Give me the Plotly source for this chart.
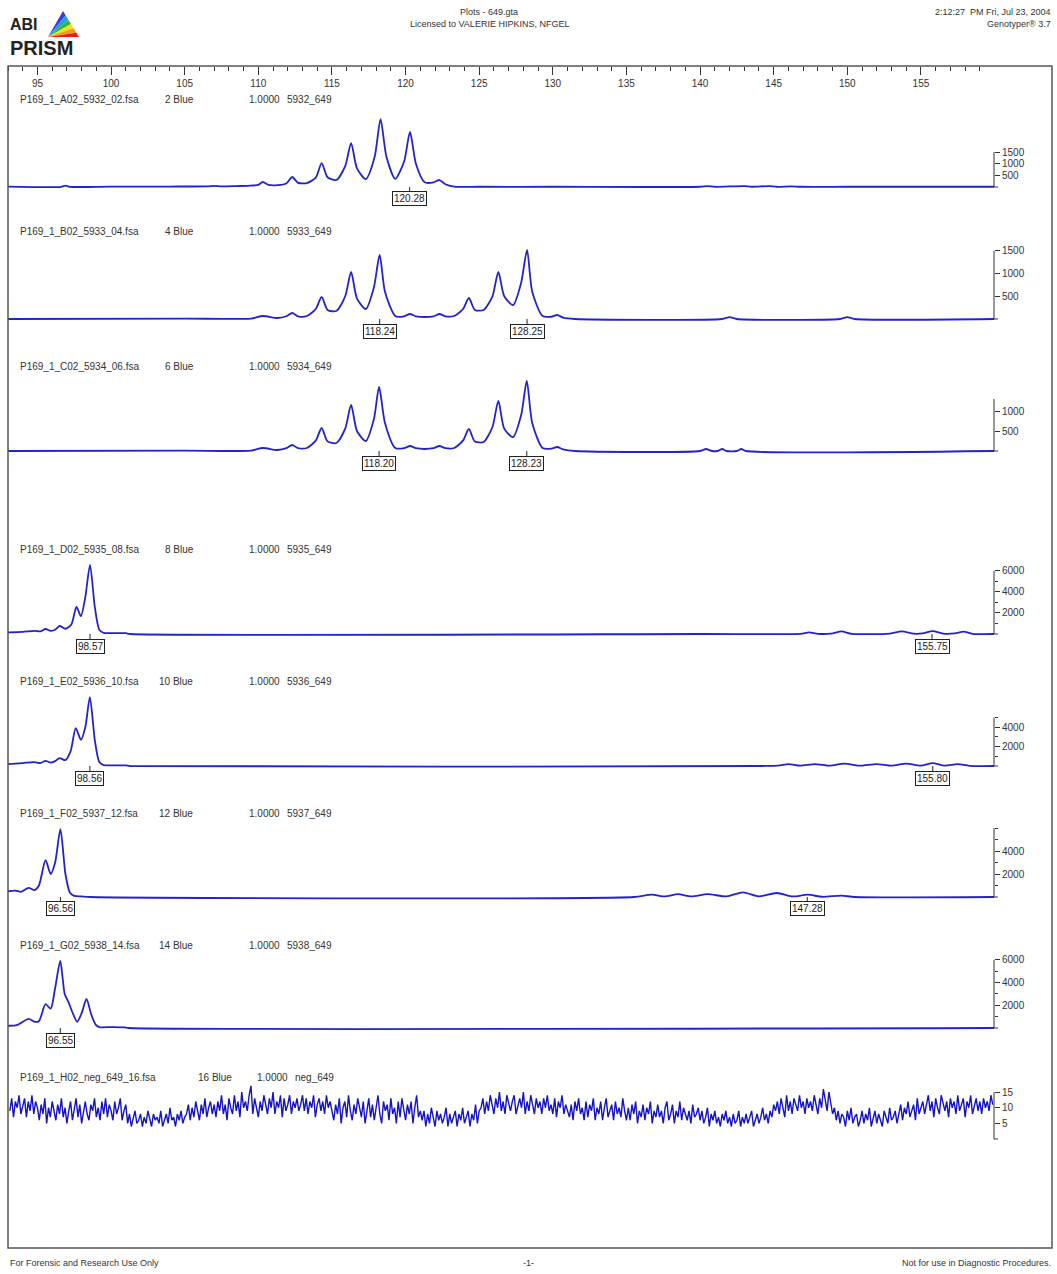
import plotly.graph_objects as go

W, H = 1057, 1274

# ---------------- data ----------------
x_range = [93.0, 159.96]
x_major = [95, 100, 105, 110, 115, 120, 125, 130, 135, 140, 145, 150, 155]

files = ["P169_1_A02_5932_02.fsa", "P169_1_B02_5933_04.fsa", "P169_1_C02_5934_06.fsa",
         "P169_1_D02_5935_08.fsa", "P169_1_E02_5936_10.fsa", "P169_1_F02_5937_12.fsa",
         "P169_1_G02_5938_14.fsa", "P169_1_H02_neg_649_16.fsa"]
dyes = ["2 Blue", "4 Blue", "6 Blue", "8 Blue", "10 Blue", "12 Blue", "14 Blue", "16 Blue"]
factors = ["1.0000"] * 8
samples = ["5932_649", "5933_649", "5934_649", "5935_649", "5936_649", "5937_649", "5938_649", "neg_649"]

peak_labels = [[120.28], [118.24, 128.25], [118.20, 128.23], [98.57, 155.75],
               [98.56, 155.80], [96.56, 147.28], [96.55], []]

y_ticks = [[500, 1000, 1500], [500, 1000, 1500], [500, 1000], [2000, 4000, 6000],
           [2000, 4000], [2000, 4000], [2000, 4000, 6000], [5, 10, 15]]
y_minor = [[], [], [], [1000, 3000, 5000], [1000, 3000, 5000], [1000, 3000, 5000, 6000],
           [1000, 3000, 5000], []]
y_axis_top = [1500, 1500, 1300, 6000, 5000, 6000, 6000, 15]

# traces (size bp, RFU)
a_x = [93.0, 96.6, 96.9, 97.2, 100.0, 104.0, 106.5, 107.0, 107.5, 108.5, 109.5,
       110.0, 110.3, 110.7, 111.3, 111.9, 112.3, 112.7, 113.3, 113.9, 114.3, 114.7, 115.3,
       115.9, 116.3, 116.7, 117.3, 117.9, 118.3, 118.7, 119.3, 119.9, 120.3, 120.7, 121.3,
       121.9, 122.3, 122.7, 123.3, 125.0, 130.0, 140.0, 140.5, 141.0, 143.0, 143.5, 144.7,
       145.2, 146.2, 146.8, 150.0, 160.0]
a_y = [20, 10, 60, 10, 15, 20, 30, 50, 25, 40, 60,
       90, 215, 90, 80, 150, 430, 180, 170, 400, 1030, 420, 300,
       900, 1890, 800, 340, 1300, 2920, 1300, 350, 1100, 2365, 1000, 200,
       200, 300, 120, 20, 10, 10, 10, 40, 10, 40, 10, 40,
       10, 30, 10, 10, 10]

b_x = [93.0, 105.0, 109.5, 110.3, 111.3, 111.9, 112.3, 112.7, 113.3, 113.9, 114.3, 114.7, 115.3,
       115.9, 116.3, 116.7, 117.3, 117.85, 118.24, 118.6, 119.3, 119.9, 120.3, 120.7, 121.3,
       121.9, 122.3, 122.7, 123.3, 123.9, 124.3, 124.7, 125.3, 125.9, 126.3, 126.7, 127.3,
       127.85, 128.25, 128.6, 129.3, 129.9, 130.3, 130.7, 131.5, 141.5, 142.0, 142.5,
       149.5, 150.0, 150.5, 160.0]
b_y = [0, 10, 10, 66, 22, 60, 132, 60, 66, 220, 484, 200, 176,
       500, 1034, 450, 220, 700, 1408, 600, 66, 60, 110, 60, 44,
       60, 110, 60, 66, 220, 462, 200, 198, 500, 1034, 500, 308,
       800, 1518, 600, 66, 50, 88, 30, 0, 0, 40, 0,
       0, 40, 0, 0]

c_x = [93.0, 105.0, 109.5, 110.3, 111.3, 111.9, 112.3, 112.7, 113.3, 113.9, 114.3, 114.7, 115.3,
       115.9, 116.3, 116.7, 117.3, 117.85, 118.20, 118.6, 119.3, 119.9, 120.3, 120.7, 121.3,
       121.9, 122.3, 122.7, 123.3, 123.9, 124.3, 124.7, 125.3, 125.9, 126.3, 126.7, 127.3,
       127.85, 128.23, 128.6, 129.3, 129.9, 130.3, 130.7, 131.5, 140.0, 140.4, 140.8, 141.2,
       141.5, 141.8, 142.5, 142.8, 143.1, 160.0]
c_y = [0, 10, 10, 75, 25, 70, 150, 70, 75, 260, 575, 240, 200,
       560, 1150, 500, 250, 800, 1600, 700, 75, 70, 125, 70, 50,
       70, 125, 70, 75, 260, 550, 240, 225, 600, 1250, 560, 350,
       900, 1750, 700, 75, 60, 100, 40, 0, 0, 50, 0, 0,
       50, 0, 0, 50, 0, 0]

d_x = [93.0, 94.0, 94.8, 95.2, 95.55, 95.9, 96.2, 96.5, 96.9, 97.3, 97.65, 97.95, 98.25,
       98.57, 98.9, 99.2, 99.5, 100.0, 101.0, 101.3, 140.0, 146.8, 147.4, 148.0, 148.9,
       149.6, 150.3, 152.9, 153.7, 154.5, 155.1, 155.8, 156.5, 157.3, 157.9, 158.5, 160.0]
d_y = [150, 200, 300, 250, 475, 300, 400, 760, 500, 900, 2570, 1700, 3500,
       6570, 2500, 400, 100, 80, 80, 0, 0, 20, 150, 20, 40,
       250, 20, 40, 250, 30, 60, 280, 40, 60, 230, 20, 0]

e_x = [93.0, 94.0, 94.8, 95.2, 95.55, 95.9, 96.2, 96.5, 96.9, 97.25, 97.6, 97.95, 98.25,
       98.56, 98.9, 99.2, 99.5, 100.0, 101.0, 101.3, 144.0, 145.3, 146.0, 146.8, 147.8,
       148.8, 149.8, 150.8, 152.0, 153.0, 154.0, 155.0, 155.8, 156.6, 157.5, 158.3, 160.0]
e_y = [200, 300, 400, 300, 520, 350, 500, 820, 600, 1500, 3900, 2700, 4000,
       7100, 2600, 400, 100, 60, 60, 0, 0, 30, 200, 30, 200,
       30, 250, 30, 200, 30, 250, 40, 300, 40, 200, 20, 0]

f_x = [93.0, 93.5, 93.9, 94.4, 94.8, 95.1, 95.55, 95.9, 96.2, 96.56, 96.9, 97.2, 97.5,
       98.0, 98.6, 135.5, 136.7, 137.6, 138.5, 139.4, 140.5, 141.8, 142.9, 144.0, 145.2,
       146.3, 147.3, 148.3, 149.6, 150.5, 160.0]
f_y = [500, 550, 450, 800, 600, 1000, 3200, 2000, 3000, 5900, 2000, 400, 100,
       50, 0, 0, 200, 50, 250, 50, 250, 50, 400, 50, 350,
       50, 200, 20, 120, 0, 0]

g_x = [93.0, 93.6, 94.4, 94.8, 95.1, 95.55, 95.9, 96.2, 96.55, 96.85, 97.1, 97.4, 97.7,
       98.0, 98.33, 98.65, 98.95, 99.2, 100.0, 100.9, 101.2, 160.0]
g_y = [200, 250, 800, 550, 600, 2100, 1700, 3500, 5900, 3000, 2300, 1300, 550,
       1300, 2550, 1200, 300, 80, 80, 60, 0, 0]

# negative control: sampled every 0.125 bp from 93.125
h_start, h_step = 93.125, 0.125
h_y = [9, 13, 7, 12, 10, 14, 8, 11, 13, 7, 12, 9, 14, 8, 12, 10,
       6, 11, 8, 13, 5, 10, 7, 12, 9, 6, 11, 8, 13, 7, 10, 5,
       9, 12, 6, 10, 13, 7, 11, 5, 9, 12, 8, 6, 11, 9, 13, 7,
       10, 6, 12, 8, 13, 7, 11, 9, 6, 12, 8, 10, 13, 6, 9, 11,
       5, 8, 4, 7, 9, 5, 6, 8, 4, 7, 5, 9, 6, 4, 8, 6,
       7, 5, 9, 4, 6, 8, 5, 10, 6, 7, 4, 8, 6, 9, 5, 7,
       8, 11, 6, 10, 7, 12, 9, 6, 11, 8, 13, 7, 10, 12, 8, 11,
       7, 12, 9, 14, 8, 11, 6, 13, 10, 8, 14, 9, 12, 7, 15, 10,
       12, 9, 14, 17, 8, 13, 10, 7, 12, 9, 14, 11, 8, 13, 10, 15,
       8, 12, 10, 14, 7, 13, 9, 11, 14, 8, 12, 10, 13, 9, 11, 14,
       9, 13, 8, 12, 10, 14, 7, 11, 13, 9, 12, 8, 14, 10, 12, 9,
       6, 11, 8, 13, 5, 10, 12, 7, 14, 9, 6, 11, 8, 13, 10, 7,
       12, 5, 9, 13, 7, 11, 6, 10, 14, 8, 5, 12, 9, 11, 6, 13,
       8, 10, 5, 12, 7, 13, 9, 6, 11, 8, 12, 5, 10, 14, 7, 9,
       6, 9, 4, 8, 5, 10, 7, 4, 9, 6, 8, 5, 7, 10, 4, 8,
       5, 7, 9, 4, 8, 6, 10, 5, 7, 9, 4, 8, 6, 11, 5, 9,
       10, 13, 8, 12, 9, 14, 11, 8, 13, 10, 15, 9, 12, 8, 14, 11,
       9, 12, 14, 8, 11, 13, 10, 15, 8, 12, 9, 14, 11, 8, 13, 10,
       12, 8, 13, 10, 14, 9, 11, 8, 13, 7, 12, 10, 14, 8, 11, 9,
       7, 11, 6, 12, 9, 13, 8, 10, 6, 12, 7, 11, 9, 13, 6, 10,
       8, 12, 6, 10, 13, 7, 9, 11, 6, 12, 8, 10, 7, 13, 9, 6,
       10, 6, 11, 8, 12, 5, 9, 7, 11, 6, 10, 8, 12, 5, 9, 7,
       11, 7, 9, 5, 10, 12, 6, 8, 11, 5, 9, 7, 12, 6, 10, 8,
       6, 9, 5, 11, 7, 8, 10, 6, 9, 5, 7, 10, 4, 8, 6, 9,
       5, 7, 4, 8, 6, 9, 5, 7, 4, 8, 5, 6, 9, 4, 7, 5,
       8, 5, 7, 9, 4, 6, 8, 5, 7, 10, 6, 8, 5, 9, 7, 11,
       9, 12, 8, 13, 10, 7, 14, 9, 12, 8, 13, 11, 9, 14, 10, 12,
       8, 13, 10, 12, 9, 14, 11, 8, 13, 10, 16, 12, 9, 15, 11, 8,
       10, 6, 9, 5, 8, 7, 4, 9, 6, 10, 5, 7, 8, 4, 6, 9,
       5, 8, 6, 10, 4, 7, 9, 5, 8, 6, 4, 9, 7, 5, 10, 6,
       7, 9, 5, 8, 11, 6, 10, 8, 12, 7, 9, 11, 6, 13, 8, 10,
       12, 8, 11, 14, 9, 12, 7, 13, 10, 8, 14, 11, 9, 12, 7, 13,
       10, 12, 8, 14, 9, 11, 13, 7, 12, 10, 14, 8, 11, 13, 9, 12,
       8, 13, 10, 12, 9, 14, 11]
h_x = [h_start + h_step * i for i in range(len(h_y))]

series_x = [a_x, b_x, c_x, d_x, e_x, f_x, g_x, h_x]
series_y = [a_y, b_y, c_y, d_y, e_y, f_y, g_y, h_y]

# ---------------- layout (pixels) ----------------
label_px = [99, 232, 366, 549, 681, 813, 945, 1077]
base_px = [187, 319, 451, 634, 766, 897, 1028, 1139]
rfu_per_px = [43, 22, 25, 95, 103, 87, 88, 0.32]
dye_px = [163, 163, 163, 163, 157, 157, 157, 196]
fac_px = [247, 247, 247, 247, 247, 247, 247, 255]
smp_px = [285, 285, 285, 285, 285, 285, 285, 293]

PX_L, PX_R = 8, 994
FONT = "Liberation Sans, Arial, Helvetica, sans-serif"
TXT = "#333333"
BLUE = "#2323cc"


def fy(px):
    return 1 - px / H


def fx(px):
    return px / W


fig = go.Figure()
annotations = []
shapes = []

for i in range(8):
    n = i + 1
    xa = "x" if n == 1 else f"x{n}"
    ya = "y" if n == 1 else f"y{n}"
    fig.add_trace(go.Scatter(
        x=series_x[i], y=series_y[i], xaxis=xa, yaxis=ya, mode="lines",
        line=dict(color=BLUE if i < 7 else "#1414c4", width=1.8 if i < 7 else 1.4,
                  shape="spline" if i < 7 else "linear", smoothing=0.7),
        hoverinfo="skip", showlegend=False))

    s = rfu_per_px[i]
    top = 76
    bot = 4
    dom = [fy(base_px[i] + bot), fy(base_px[i] - top)]
    xkey = "xaxis" if n == 1 else f"xaxis{n}"
    ykey = "yaxis" if n == 1 else f"yaxis{n}"
    if n == 1:
        fig.layout[xkey] = dict(
            domain=[fx(PX_L), fx(PX_R)], range=x_range, anchor="free",
            position=fy(66), side="bottom", showgrid=False, zeroline=False,
            showline=False, tickmode="array", tickvals=x_major,
            ticktext=[str(v) for v in x_major], ticks="outside", ticklen=8,
            tickwidth=1, tickcolor=TXT, tickfont=dict(family=FONT, size=10, color=TXT),
            minor=dict(dtick=1, tick0=95, ticks="outside", ticklen=4, tickwidth=1,
                       tickcolor=TXT, showgrid=False))
    else:
        fig.layout[xkey] = dict(domain=[fx(PX_L), fx(PX_R)], range=x_range,
                                anchor=ya, visible=False)
    fig.layout[ykey] = dict(
        domain=dom, range=[-bot * s, top * s], anchor=xa, side="right",
        showgrid=False, zeroline=False, showline=False, tickmode="array",
        tickvals=y_ticks[i], ticktext=[str(v) for v in y_ticks[i]], ticks="outside",
        ticklen=5, tickwidth=1, tickcolor=TXT,
        tickfont=dict(family=FONT, size=10, color=TXT),
        minor=dict(tickvals=y_minor[i], ticks="outside", ticklen=3, tickwidth=1,
                   tickcolor=TXT, showgrid=False))
    # y axis line from 0 to top value
    shapes.append(dict(type="line", xref=f"{xa} domain", yref=ya, x0=1, x1=1,
                       y0=0, y1=y_axis_top[i], line=dict(color=TXT, width=1)))
    shapes.append(dict(type="line", xref=f"{xa} domain", yref=ya, x0=1, x1=1.004,
                       y0=0, y1=0, line=dict(color=TXT, width=1)))

    # panel label
    ly = fy(label_px[i])
    for txt, px in [(files[i], 18), (dyes[i], dye_px[i]), (factors[i], fac_px[i]),
                    (samples[i], smp_px[i])]:
        annotations.append(dict(text=txt, x=fx(px), y=ly, xref="paper", yref="paper",
                                xanchor="left", yanchor="middle", showarrow=False,
                                font=dict(family=FONT, size=10, color=TXT)))
    # peak boxes
    for v in peak_labels[i]:
        annotations.append(dict(text=f"{v:.2f}", x=v, y=0, xref=xa, yref=ya,
                                showarrow=True, ax=0, ay=12, arrowhead=0, arrowwidth=1,
                                arrowcolor="#222", standoff=0, startstandoff=0,
                                bordercolor="#222", borderwidth=1, borderpad=1,
                                bgcolor="white",
                                font=dict(family=FONT, size=10, color="#222")))

# frame
shapes.append(dict(type="rect", xref="paper", yref="paper", x0=fx(8), x1=fx(1052),
                    y0=fy(1248), y1=fy(66), line=dict(color="#555", width=1.5)))

# logo triangle (fan of colours)
apex = (63, 11)
bl = (48, 37)
br = (79, 37)
cols = ["#3b3bd8", "#1fa0e0", "#33b533", "#f2e020", "#f59a1a", "#e02020"]
nseg = len(cols)
for k, c in enumerate(cols):
    t0 = k / nseg
    t1 = (k + 1) / nseg
    p0 = (apex[0] + (br[0] - apex[0]) * t0, apex[1] + (br[1] - apex[1]) * t0)
    p1 = (apex[0] + (br[0] - apex[0]) * t1, apex[1] + (br[1] - apex[1]) * t1)
    path = (f"M {fx(bl[0])} {fy(bl[1])} L {fx(p0[0])} {fy(p0[1])} "
            f"L {fx(p1[0])} {fy(p1[1])} Z")
    shapes.append(dict(type="path", xref="paper", yref="paper", path=path,
                       fillcolor=c, line=dict(width=0)))

hdr = dict(xref="paper", yref="paper", showarrow=False)
annotations += [
    dict(text="<b>ABI</b>", x=fx(9), y=fy(25), xanchor="left", yanchor="middle",
         borderpad=0, font=dict(family=FONT, size=16, color="#222"), **hdr),
    dict(text="<b>PRISM</b>", x=fx(9), y=fy(48), xanchor="left", yanchor="middle",
         borderpad=0, font=dict(family=FONT, size=20, color="#222"), **hdr),
    dict(text="Plots - 649.gta", x=fx(489), y=fy(12), xanchor="center", yanchor="middle",
         font=dict(family=FONT, size=9, color=TXT), **hdr),
    dict(text="Licensed to VALERIE HIPKINS, NFGEL", x=fx(489), y=fy(24), xanchor="center",
         yanchor="middle", font=dict(family=FONT, size=9, color=TXT), **hdr),
    dict(text="2:12:27  PM Fri, Jul 23, 2004", x=fx(1053), y=fy(12), xanchor="right",
         yanchor="middle", font=dict(family=FONT, size=9, color=TXT), **hdr),
    dict(text="Genotyper® 3.7", x=fx(1053), y=fy(24), xanchor="right",
         yanchor="middle", font=dict(family=FONT, size=9, color=TXT), **hdr),
    dict(text="For Forensic and Research Use Only", x=fx(8), y=fy(1263), xanchor="left",
         yanchor="middle", font=dict(family=FONT, size=9, color=TXT), **hdr),
    dict(text="-1-", x=fx(528), y=fy(1263), xanchor="center",
         yanchor="middle", font=dict(family=FONT, size=9, color=TXT), **hdr),
    dict(text="Not for use in Diagnostic Procedures.", x=fx(1053), y=fy(1263),
         xanchor="right", yanchor="middle", font=dict(family=FONT, size=9, color=TXT), **hdr),
]

fig.update_layout(width=W, height=H, margin=dict(l=0, r=0, t=0, b=0),
                  paper_bgcolor="white", plot_bgcolor="rgba(0,0,0,0)",
                  showlegend=False, annotations=annotations, shapes=shapes,
                  font=dict(family=FONT, color=TXT))

fig.write_html("out.html")
